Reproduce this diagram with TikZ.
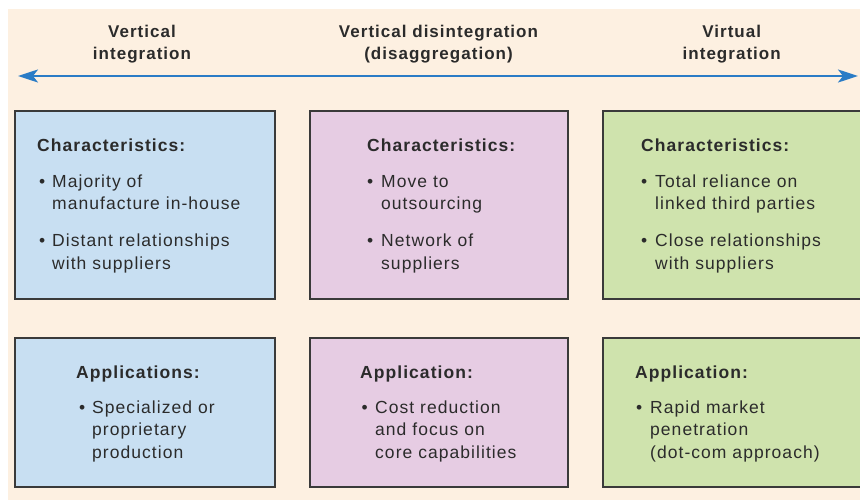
\documentclass[tikz,border=0pt]{standalone}
\usepackage{fontspec}
\setmainfont{Liberation Sans}[LetterSpace=6]
\usetikzlibrary{arrows.meta}

\definecolor{cream}{HTML}{FDF0E1}
\definecolor{boxblue}{HTML}{C8DFF2}
\definecolor{boxpink}{HTML}{E6CCE3}
\definecolor{boxgreen}{HTML}{CFE3AD}
\definecolor{edge}{HTML}{3A3A3A}
\definecolor{arrowblue}{HTML}{2A7CC6}
\definecolor{ink}{HTML}{2B2B2B}

% bullet with a fixed gap before the item text
\newcommand\bul[1]{\makebox[#1][l]{•}}

\begin{document}
\begin{tikzpicture}[x=1pt,y=-1pt,
  panel/.style={draw=edge,line width=1.6pt,anchor=north west,inner sep=0pt,
    minimum height=#1},
  head/.style={anchor=base,inner sep=0pt,text=ink,
    font=\fontsize{17}{22}\selectfont\bfseries},
  body/.style={anchor=base west,inner sep=0pt,text=ink,
    font=\fontsize{17.5}{22.7}\selectfont},
  scale arrow/.style={arrowblue,line width=2.2pt,
    {Stealth[length=20pt,width=13pt,inset=5pt]}-{Stealth[length=20pt,width=13pt,inset=5pt]}}
]
\useasboundingbox (0,0) rectangle (860,500);
\fill[white] (0,0) rectangle (860,500);
\fill[cream] (8,9) rectangle (860,500);

% column headings
\node[head] (h1) at (142,37.3) {\begin{tabular}[t]{@{}c@{}}Vertical\\integration\end{tabular}};
\node[head] (h2) at (438.5,37.3) {\begin{tabular}[t]{@{}c@{}}Vertical disintegration\\(disaggregation)\end{tabular}};
\node[head] (h3) at (731.7,37.3) {\begin{tabular}[t]{@{}c@{}}Virtual\\integration\end{tabular}};

% double-headed scale arrow
\coordinate (al) at (18,76);
\coordinate (ar) at (858,76);
\draw[scale arrow] (al) -- (ar);

% panels
\node[panel=188pt,minimum width=260pt,fill=boxblue]  (p11) at (14,110) {};
\node[panel=188pt,minimum width=258pt,fill=boxpink]  (p12) at (309,110) {};
\node[panel=188pt,minimum width=262pt,fill=boxgreen] (p13) at (602,110) {};
\node[panel=149pt,minimum width=260pt,fill=boxblue]  (p21) at (14,337) {};
\node[panel=149pt,minimum width=258pt,fill=boxpink]  (p22) at (309,337) {};
\node[panel=149pt,minimum width=262pt,fill=boxgreen] (p23) at (602,337) {};

% characteristics
\node[body] (t11) at (37,151.7) {\begin{tabular}[t]{@{}l@{}}
  \textbf{Characteristics:}\\[12.9pt]
  \hspace*{2pt}\bul{13pt}Majority of\\
  \hspace*{15pt}manufacture in-house\\[14pt]
  \hspace*{2pt}\bul{13pt}Distant relationships\\
  \hspace*{15pt}with suppliers
\end{tabular}};
\node[body] (t12) at (367,151.7) {\begin{tabular}[t]{@{}l@{}}
  \textbf{Characteristics:}\\[12.9pt]
  \bul{14pt}Move to\\
  \hspace*{14pt}outsourcing\\[14pt]
  \bul{14pt}Network of\\
  \hspace*{14pt}suppliers
\end{tabular}};
\node[body] (t13) at (641,151.7) {\begin{tabular}[t]{@{}l@{}}
  \textbf{Characteristics:}\\[12.9pt]
  \bul{14pt}Total reliance on\\
  \hspace*{14pt}linked third parties\\[14pt]
  \bul{14pt}Close relationships\\
  \hspace*{14pt}with suppliers
\end{tabular}};

% applications
\node[body] (t21) at (76,378) {\begin{tabular}[t]{@{}l@{}}
  \textbf{Applications:}\\[12.3pt]
  \hspace*{3pt}\bul{13pt}Specialized or\\
  \hspace*{16pt}proprietary\\
  \hspace*{16pt}production
\end{tabular}};
\node[body] (t22) at (360,378) {\begin{tabular}[t]{@{}l@{}}
  \textbf{Application:}\\[12.3pt]
  \hspace*{1.5pt}\bul{13.5pt}Cost reduction\\
  \hspace*{15pt}and focus on\\
  \hspace*{15pt}core capabilities
\end{tabular}};
\node[body] (t23) at (635,378) {\begin{tabular}[t]{@{}l@{}}
  \textbf{Application:}\\[12.3pt]
  \hspace*{1pt}\bul{14pt}Rapid market\\
  \hspace*{15pt}penetration\\
  \hspace*{15pt}(dot-com approach)
\end{tabular}};
\end{tikzpicture}
\end{document}
